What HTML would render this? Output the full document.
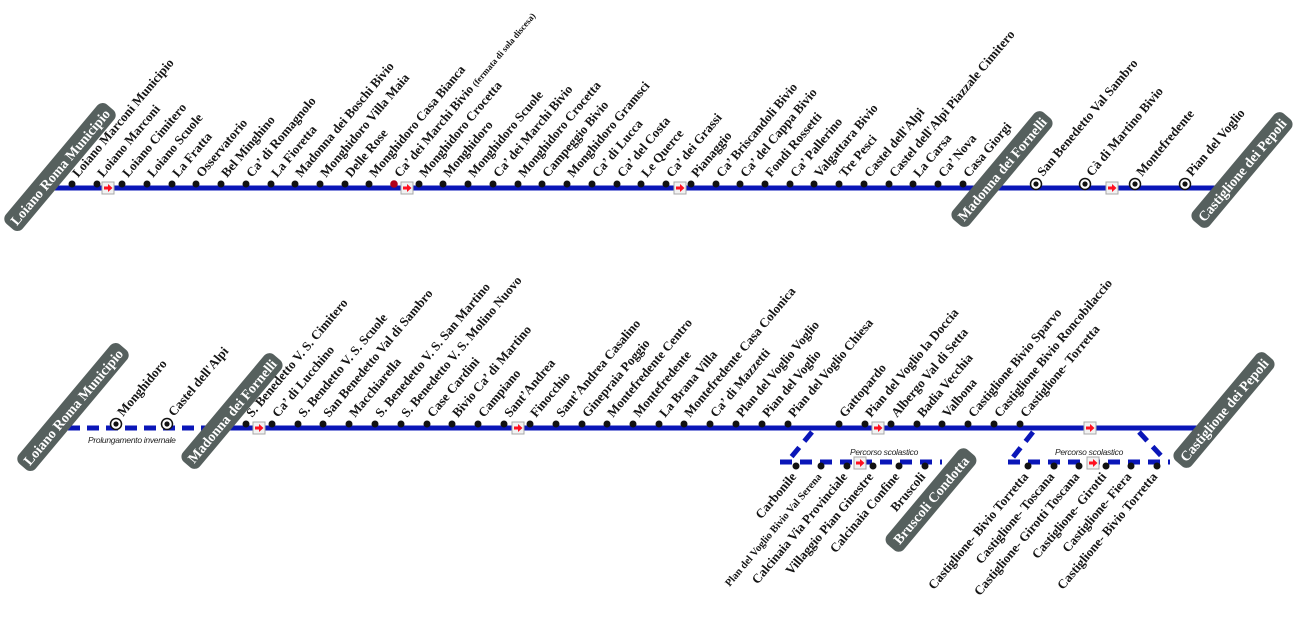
<!DOCTYPE html>
<html><head><meta charset="utf-8"><style>
html,body{margin:0;padding:0;background:#fff;width:1294px;height:630px;overflow:hidden}
svg{display:block}
.l{font-family:"Liberation Serif",serif;font-weight:bold;font-size:13px;fill:#151515}
.s{font-size:9px}
.p{font-family:"Liberation Serif",serif;font-weight:bold;font-size:14px;fill:#fff}
.i{font-family:"Liberation Sans",sans-serif;font-style:italic;font-size:8.5px;fill:#222;letter-spacing:-0.3px}
</style></head><body>
<svg width="1294" height="630" viewBox="0 0 1294 630" xmlns="http://www.w3.org/2000/svg">
<defs>
<g id="ar"><rect x="-6" y="-6" width="12" height="12" fill="#f2f2f2" stroke="#a8a8a8" stroke-width="1"/><path d="M-4,-1.5 H0 V-4 L4.5,0 L0,4 V1.5 H-4 Z" fill="#ff1020"/></g>
<g id="cd"><circle r="5.5" fill="#fff" stroke="#111" stroke-width="1.5"/><circle r="2.6" fill="#111"/></g>
</defs>

<!-- ROW 1 -->
<line x1="52" y1="188" x2="1215" y2="188" stroke="#0a16b8" stroke-width="5"/>
<g fill="#111">
<circle cx="72" cy="184" r="3.5"/><circle cx="97" cy="184" r="3.5"/><circle cx="122" cy="184" r="3.5"/><circle cx="147" cy="184" r="3.5"/><circle cx="172" cy="184" r="3.5"/><circle cx="196" cy="184" r="3.5"/><circle cx="221" cy="184" r="3.5"/><circle cx="246" cy="184" r="3.5"/><circle cx="271" cy="184" r="3.5"/><circle cx="295" cy="184" r="3.5"/><circle cx="320" cy="184" r="3.5"/><circle cx="345" cy="184" r="3.5"/><circle cx="369" cy="184" r="3.5"/><circle cx="419" cy="184" r="3.5"/><circle cx="443" cy="184" r="3.5"/><circle cx="468" cy="184" r="3.5"/><circle cx="493" cy="184" r="3.5"/><circle cx="518" cy="184" r="3.5"/><circle cx="542" cy="184" r="3.5"/><circle cx="567" cy="184" r="3.5"/><circle cx="592" cy="184" r="3.5"/><circle cx="617" cy="184" r="3.5"/><circle cx="641" cy="184" r="3.5"/><circle cx="666" cy="184" r="3.5"/><circle cx="691" cy="184" r="3.5"/><circle cx="716" cy="184" r="3.5"/><circle cx="740" cy="184" r="3.5"/><circle cx="765" cy="184" r="3.5"/><circle cx="790" cy="184" r="3.5"/><circle cx="814" cy="184" r="3.5"/><circle cx="839" cy="184" r="3.5"/><circle cx="864" cy="184" r="3.5"/><circle cx="889" cy="184" r="3.5"/><circle cx="913" cy="184" r="3.5"/><circle cx="938" cy="184" r="3.5"/><circle cx="963" cy="184" r="3.5"/>
</g>
<circle cx="394" cy="184" r="3.8" fill="#b0001a"/>
<use href="#cd" x="1036" y="184"/><use href="#cd" x="1085" y="184"/><use href="#cd" x="1135" y="184"/><use href="#cd" x="1185" y="184"/>
<use href="#ar" x="108" y="188"/><use href="#ar" x="407" y="188"/><use href="#ar" x="680" y="188"/><use href="#ar" x="1112" y="188"/>

<g class="l">
<text transform="translate(78,178) rotate(-50)">Loiano Marconi Municipio</text>
<text transform="translate(103,178) rotate(-50)">Loiano Marconi</text>
<text transform="translate(128,178) rotate(-50)">Loiano Cimitero</text>
<text transform="translate(153,178) rotate(-50)">Loiano Scuole</text>
<text transform="translate(178,178) rotate(-50)">La Fratta</text>
<text transform="translate(202,178) rotate(-50)">Osservatorio</text>
<text transform="translate(227,178) rotate(-50)">Bel Minghino</text>
<text transform="translate(252,178) rotate(-50)">Ca’ di Romagnolo</text>
<text transform="translate(277,178) rotate(-50)">La Fioretta</text>
<text transform="translate(301,178) rotate(-50)">Madonna dei Boschi Bivio</text>
<text transform="translate(326,178) rotate(-50)">Monghidoro Villa Maia</text>
<text transform="translate(351,178) rotate(-50)">Delle Rose</text>
<text transform="translate(375,178) rotate(-50)">Monghidoro Casa Bianca</text>
<text transform="translate(400,178) rotate(-50)">Ca’ dei Marchi Bivio <tspan class="s">(fermata di sola discesa)</tspan></text>
<text transform="translate(425,178) rotate(-50)">Monghidoro Crocetta</text>
<text transform="translate(449,178) rotate(-50)">Monghidoro</text>
<text transform="translate(474,178) rotate(-50)">Monghidoro Scuole</text>
<text transform="translate(499,178) rotate(-50)">Ca’ dei Marchi Bivio</text>
<text transform="translate(524,178) rotate(-50)">Monghidoro Crocetta</text>
<text transform="translate(548,178) rotate(-50)">Campeggio Bivio</text>
<text transform="translate(573,178) rotate(-50)">Monghidoro Gramsci</text>
<text transform="translate(598,178) rotate(-50)">Ca’ di Lucca</text>
<text transform="translate(623,178) rotate(-50)">Ca’ del Costa</text>
<text transform="translate(647,178) rotate(-50)">Le Querce</text>
<text transform="translate(672,178) rotate(-50)">Ca’ dei Grassi</text>
<text transform="translate(697,178) rotate(-50)">Pianaggio</text>
<text transform="translate(722,178) rotate(-50)">Ca’ Briscandoli Bivio</text>
<text transform="translate(746,178) rotate(-50)">Ca’ del Cappa Bivio</text>
<text transform="translate(771,178) rotate(-50)">Fondi Rossetti</text>
<text transform="translate(796,178) rotate(-50)">Ca’ Pallerino</text>
<text transform="translate(820,178) rotate(-50)">Valgattara Bivio</text>
<text transform="translate(845,178) rotate(-50)">Tre Pesci</text>
<text transform="translate(870,178) rotate(-50)">Castel dell'Alpi</text>
<text transform="translate(895,178) rotate(-50)">Castel dell'Alpi Piazzale Cimitero</text>
<text transform="translate(919,178) rotate(-50)">La Carsa</text>
<text transform="translate(944,178) rotate(-50)">Ca’ Nova</text>
<text transform="translate(969,178) rotate(-50)">Casa Giorgi</text>
<text transform="translate(1043,177) rotate(-50)">San Benedetto Val Sambro</text>
<text transform="translate(1092,177) rotate(-50)">Cà di Martino Bivio</text>
<text transform="translate(1142,177) rotate(-50)">Montefredente</text>
<text transform="translate(1192,177) rotate(-50)">Pian del Voglio</text>
</g>

<g transform="translate(60,167) rotate(-50)"><rect x="-78" y="-11" width="156" height="22" rx="7" fill="#56605e"/><text class="p" text-anchor="middle" y="5">Loiano Roma Municipio</text></g>
<g transform="translate(1002,169) rotate(-50)"><rect x="-70" y="-11" width="140" height="22" rx="7" fill="#56605e"/><text class="p" text-anchor="middle" y="5">Madonna dei Fornelli</text></g>
<g transform="translate(1242,170) rotate(-50)"><rect x="-70" y="-11" width="140" height="22" rx="7" fill="#56605e"/><text class="p" text-anchor="middle" y="5">Castiglione dei Pepoli</text></g>

<!-- ROW 2 -->
<line x1="68" y1="428" x2="232" y2="428" stroke="#0a16b8" stroke-width="5" stroke-dasharray="12 7"/>
<line x1="228" y1="428" x2="1200" y2="428" stroke="#0a16b8" stroke-width="5"/>
<text class="i" x="88" y="443">Prolungamento invernale</text>
<use href="#cd" x="116" y="424"/><use href="#cd" x="167" y="424"/>
<g stroke="#0a16b8" stroke-width="5" fill="none" stroke-dasharray="12 8">
<line x1="812" y1="432" x2="788" y2="461"/>
<line x1="780" y1="462" x2="942" y2="462"/>
<line x1="1033" y1="432" x2="1010" y2="461"/>
<line x1="1008" y1="462" x2="1170" y2="462"/>
<line x1="1139" y1="432" x2="1166" y2="461"/>
</g>
<text class="i" x="850" y="455">Percorso scolastico</text>
<text class="i" x="1055" y="455">Percorso scolastico</text>
<g fill="#111">
<circle cx="246" cy="424" r="3.5"/><circle cx="272" cy="424" r="3.5"/><circle cx="298" cy="424" r="3.5"/><circle cx="323" cy="424" r="3.5"/><circle cx="349" cy="424" r="3.5"/><circle cx="375" cy="424" r="3.5"/><circle cx="401" cy="424" r="3.5"/><circle cx="427" cy="424" r="3.5"/><circle cx="452" cy="424" r="3.5"/><circle cx="478" cy="424" r="3.5"/><circle cx="504" cy="424" r="3.5"/><circle cx="530" cy="424" r="3.5"/><circle cx="556" cy="424" r="3.5"/><circle cx="582" cy="424" r="3.5"/><circle cx="607" cy="424" r="3.5"/><circle cx="633" cy="424" r="3.5"/><circle cx="659" cy="424" r="3.5"/><circle cx="684" cy="424" r="3.5"/><circle cx="710" cy="424" r="3.5"/><circle cx="736" cy="424" r="3.5"/><circle cx="762" cy="424" r="3.5"/><circle cx="788" cy="424" r="3.5"/><circle cx="839" cy="424" r="3.5"/><circle cx="865" cy="424" r="3.5"/><circle cx="891" cy="424" r="3.5"/><circle cx="917" cy="424" r="3.5"/><circle cx="942" cy="424" r="3.5"/><circle cx="968" cy="424" r="3.5"/><circle cx="994" cy="424" r="3.5"/><circle cx="1020" cy="424" r="3.5"/>
<circle cx="796" cy="466" r="3.5"/><circle cx="821" cy="466" r="3.5"/><circle cx="847" cy="466" r="3.5"/><circle cx="873" cy="466" r="3.5"/><circle cx="899" cy="466" r="3.5"/><circle cx="925" cy="466" r="3.5"/>
<circle cx="1028" cy="466" r="3.5"/><circle cx="1054" cy="466" r="3.5"/><circle cx="1079" cy="466" r="3.5"/><circle cx="1106" cy="466" r="3.5"/><circle cx="1131" cy="466" r="3.5"/><circle cx="1157" cy="466" r="3.5"/>
</g>
<use href="#ar" x="259" y="428"/><use href="#ar" x="518" y="428"/><use href="#ar" x="878" y="428"/><use href="#ar" x="1090" y="428"/>
<use href="#ar" x="860" y="463"/><use href="#ar" x="1093" y="463"/>

<g class="l">
<text transform="translate(123,417) rotate(-50)">Monghidoro</text>
<text transform="translate(174,417) rotate(-50)">Castel dell'Alpi</text>
<text transform="translate(252,418) rotate(-50)">S. Benedetto V. S. Cimitero</text>
<text transform="translate(278,418) rotate(-50)">Ca’ di Lucchino</text>
<text transform="translate(304,418) rotate(-50)">S. Bendetto V. S. Scuole</text>
<text transform="translate(329,418) rotate(-50)">San Benedetto Val di Sambro</text>
<text transform="translate(355,418) rotate(-50)">Macchiarella</text>
<text transform="translate(381,418) rotate(-50)">S. Benedetto V. S. San Martino</text>
<text transform="translate(407,418) rotate(-50)">S. Benedetto V. S. Molino Nuovo</text>
<text transform="translate(433,418) rotate(-50)">Case Cardini</text>
<text transform="translate(458,418) rotate(-50)">Bivio Ca’ di Martino</text>
<text transform="translate(484,418) rotate(-50)">Campiano</text>
<text transform="translate(510,418) rotate(-50)">Sant’Andrea</text>
<text transform="translate(536,418) rotate(-50)">Finocchio</text>
<text transform="translate(562,418) rotate(-50)">Sant’Andrea Casalino</text>
<text transform="translate(588,418) rotate(-50)">Ginepraia Poggio</text>
<text transform="translate(613,418) rotate(-50)">Montefredente Centro</text>
<text transform="translate(639,418) rotate(-50)">Montefredente</text>
<text transform="translate(665,418) rotate(-50)">La Brana Villa</text>
<text transform="translate(690,418) rotate(-50)">Montefredente Casa Colonica</text>
<text transform="translate(716,418) rotate(-50)">Ca’ di Mazzetti</text>
<text transform="translate(742,418) rotate(-50)">Plan del Voglio Voglio</text>
<text transform="translate(768,418) rotate(-50)">Pian del Voglio</text>
<text transform="translate(794,418) rotate(-50)">Pian del Voglio Chiesa</text>
<text transform="translate(845,418) rotate(-50)">Gattopardo</text>
<text transform="translate(871,418) rotate(-50)">Pian del Voglio la Doccia</text>
<text transform="translate(897,418) rotate(-50)">Albergo Val di Setta</text>
<text transform="translate(923,418) rotate(-50)">Badia Vecchia</text>
<text transform="translate(948,418) rotate(-50)">Valbona</text>
<text transform="translate(974,418) rotate(-50)">Castiglione Bivio Sparvo</text>
<text transform="translate(1000,418) rotate(-50)">Castiglione Bivio Roncobilaccio</text>
<text transform="translate(1026,418) rotate(-50)">Castiglione- Torretta</text>
</g>
<g class="l" text-anchor="end">
<text transform="translate(797,477) rotate(-50)">Carbonile</text>
<text transform="translate(822,477) rotate(-50)" style="font-size:10.5px">Plan del Voglio Bivio Val Serena</text>
<text transform="translate(848,477) rotate(-50)">Calcinaia Via Provinciale</text>
<text transform="translate(874,477) rotate(-50)">Villaggio Pian Ginestre</text>
<text transform="translate(900,477) rotate(-50)">Calcinaia Confine</text>
<text transform="translate(926,477) rotate(-50)">Bruscoli</text>
<text transform="translate(1029,477) rotate(-50)">Castiglione- Bivio Torretta</text>
<text transform="translate(1055,477) rotate(-50)">Castiglione- Toscana</text>
<text transform="translate(1080,477) rotate(-50)">Castiglione- Girotti Toscana</text>
<text transform="translate(1107,477) rotate(-50)">Castiglione- Girotti</text>
<text transform="translate(1132,477) rotate(-50)">Castiglione- Fiera</text>
<text transform="translate(1158,477) rotate(-50)">Castiglione- Bivio Torretta</text>
</g>

<g transform="translate(73,407) rotate(-50)"><rect x="-78" y="-11" width="156" height="22" rx="7" fill="#56605e"/><text class="p" text-anchor="middle" y="5">Loiano Roma Municipio</text></g>
<g transform="translate(232,411) rotate(-50)"><rect x="-70" y="-11" width="140" height="22" rx="7" fill="#56605e"/><text class="p" text-anchor="middle" y="5">Madonna dei Fornelli</text></g>
<g transform="translate(1224,410) rotate(-50)"><rect x="-70" y="-11" width="140" height="22" rx="7" fill="#56605e"/><text class="p" text-anchor="middle" y="5">Castiglione dei Pepoli</text></g>
<g transform="translate(931,500) rotate(-50)"><rect x="-62" y="-11" width="124" height="22" rx="7" fill="#56605e"/><text class="p" text-anchor="middle" y="5">Bruscoli Condotta</text></g>
</svg>
</body></html>
